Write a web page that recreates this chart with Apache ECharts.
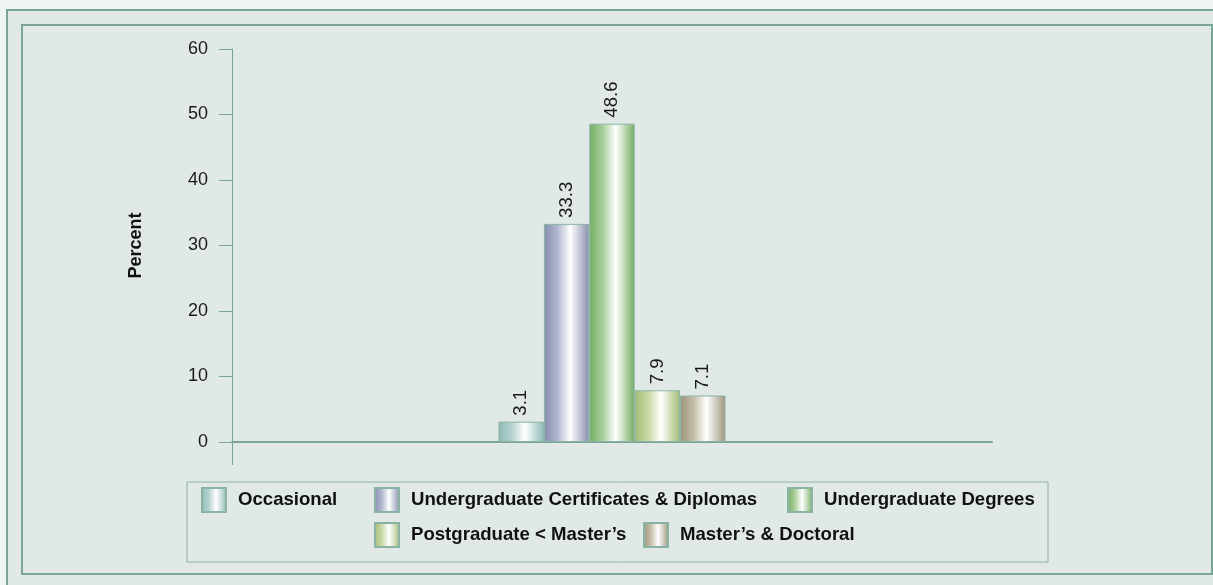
<!DOCTYPE html>
<html>
<head>
<meta charset="utf-8">
<script src="https://cdn.jsdelivr.net/npm/echarts@6/dist/echarts.min.js"></script>
<style>
html,body{margin:0;padding:0;background:#eff3f2;}
#chart{width:1213px;height:585px;}
</style>
</head>
<body>
<div id="chart"></div>
<script>
// 数据
var categories = [''];
var seriesNames = ['Occasional', 'Undergraduate Certificates & Diplomas', 'Undergraduate Degrees', 'Postgraduate < Master\u2019s', 'Master\u2019s & Doctoral'];
var seriesValues = [3.1, 33.3, 48.6, 7.9, 7.1];
var yTicks = [0, 10, 20, 30, 40, 50, 60];

// 样式
var barDark = ['#8cbab5', '#868eae', '#74ad62', '#a3bc74', '#9d947a'];
var barLight = ['#b5d3d0', '#b2b7cf', '#a9cf9b', '#c8d9a6', '#c4bda8'];
var lineColor = '#79a595';
var font = 'Liberation Sans, Arial, sans-serif';
var legendPos = [[201, 487], [374, 487], [787, 487], [374, 522], [643, 522]];

var chart = echarts.init(document.getElementById('chart'));

function barFill(i) {
    return new echarts.graphic.LinearGradient(0, 0, 1, 0, [
        {offset: 0, color: barDark[i]},
        {offset: 0.3, color: barLight[i]},
        {offset: 0.58, color: '#ffffff'},
        {offset: 1, color: barDark[i]}
    ]);
}

var series = seriesNames.map(function(name, i) {
    return {
        name: name,
        type: 'bar',
        data: [seriesValues[i]],
        barWidth: 45.4,
        barGap: '0%',
        itemStyle: {color: barFill(i), borderColor: '#8ab3a6', borderWidth: 1},
        label: {
            show: true,
            position: 'top',
            rotate: 90,
            align: 'left',
            verticalAlign: 'middle',
            distance: 6,
            fontFamily: font,
            fontSize: 18.6,
            color: '#1a1a1a',
            formatter: function(p) { return p.value.toFixed(1); }
        }
    };
});

var legends = seriesNames.map(function(name, i) {
    return {
        data: [name],
        left: legendPos[i][0],
        top: legendPos[i][1],
        padding: 0,
        orient: 'horizontal',
        itemWidth: 24,
        itemHeight: 24,
        selectedMode: false,
        icon: 'rect',
        textStyle: {
            fontFamily: font,
            fontSize: 18.6,
            fontWeight: 'bold',
            color: '#111',
            padding: [0, 0, 0, 7]
        }
    };
});

var boxes = [
    {type: 'rect', z: -10, shape: {x: 7, y: 10, width: 1220, height: 600}, style: {fill: '#e1e9e6', stroke: lineColor, lineWidth: 2}},
    {type: 'rect', z: -9, shape: {x: 22, y: 25, width: 1190, height: 549}, style: {fill: '#e1e9e6', stroke: lineColor, lineWidth: 2}},
    {type: 'rect', z: -8, shape: {x: 187, y: 482, width: 861, height: 80}, style: {fill: '#e1e9e6', stroke: '#8cb0a4', lineWidth: 1}}
];

chart.setOption({
    backgroundColor: '#eff3f2',
    animation: false,
    graphic: boxes,
    legend: legends,
    grid: {left: 232, right: 221, top: 49, bottom: 143},
    xAxis: {
        type: 'category',
        data: categories,
        axisLine: {lineStyle: {color: lineColor, width: 2}},
        axisTick: {show: false},
        axisLabel: {show: false}
    },
    yAxis: {
        type: 'value',
        min: yTicks[0],
        max: yTicks[yTicks.length - 1],
        interval: yTicks[1] - yTicks[0],
        name: 'Percent',
        nameLocation: 'middle',
        nameRotate: 90,
        nameGap: 87,
        nameTextStyle: {fontFamily: font, fontSize: 18, fontWeight: 'bold', color: '#111'},
        axisLine: {show: true, lineStyle: {color: lineColor, width: 1}},
        axisTick: {show: true, length: 13, lineStyle: {color: lineColor}},
        axisLabel: {margin: 24, fontFamily: font, fontSize: 18, color: '#1a1a1a'},
        splitLine: {show: false}
    },
    series: series
});

// y轴线向下延伸
var y0 = chart.convertToPixel({yAxisIndex: 0}, 0);
chart.setOption({
    graphic: boxes.concat([
        {type: 'line', z: 5, shape: {x1: 232.5, y1: y0, x2: 232.5, y2: y0 + 23}, style: {stroke: lineColor, lineWidth: 1}}
    ])
}, {replaceMerge: ['graphic']});
</script>
</body>
</html>
